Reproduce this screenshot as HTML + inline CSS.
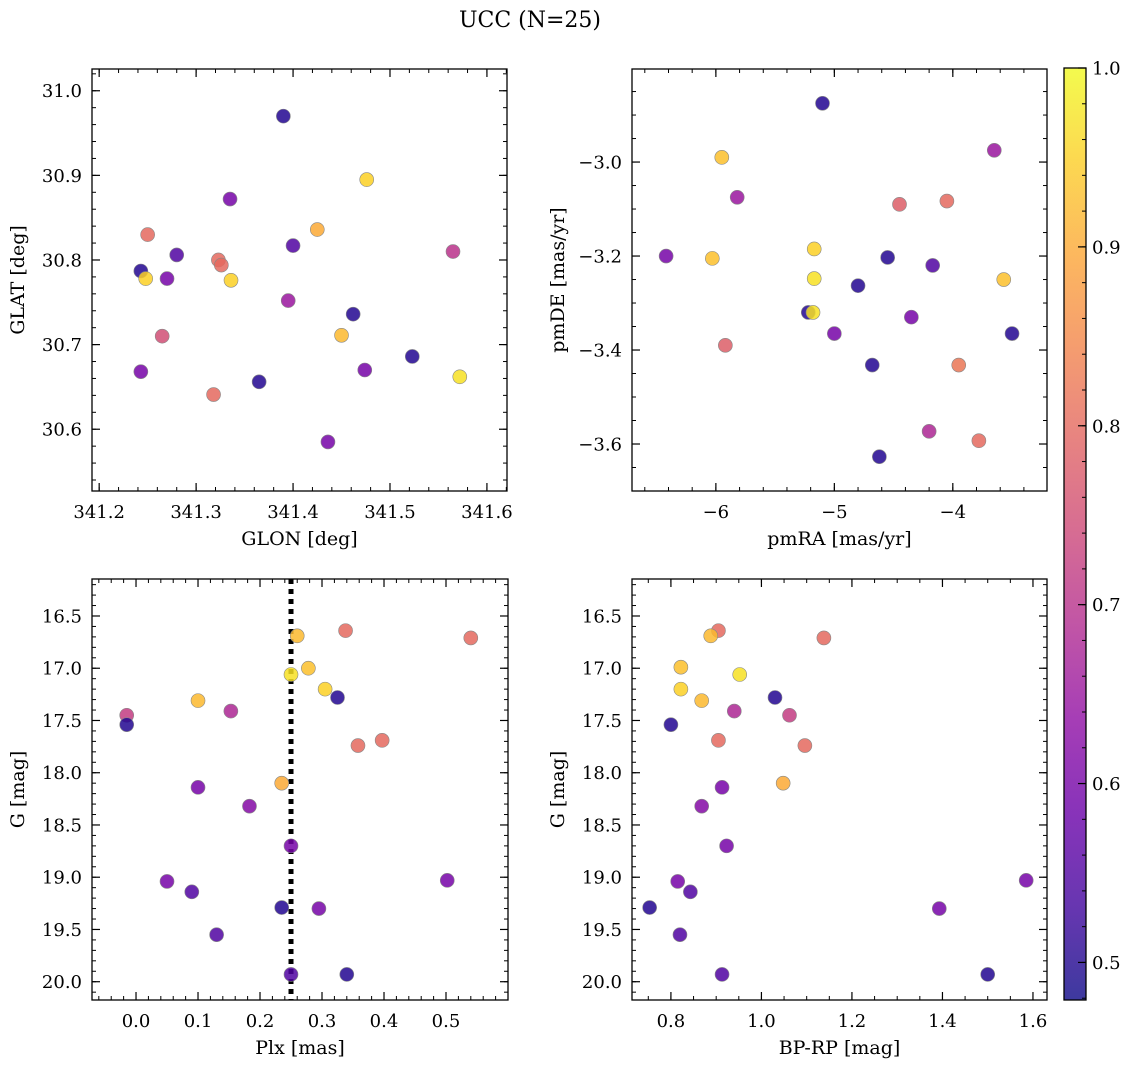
<!DOCTYPE html>
<html><head><meta charset="utf-8"><style>
html,body{margin:0;padding:0;background:#fff;}
svg text{font-family:"DejaVu Serif","Liberation Serif",serif;fill:#000;}
</style></head><body>
<svg id="fig" width="1136" height="1068" viewBox="0 0 1136 1068" xmlns="http://www.w3.org/2000/svg">
<rect width="1136" height="1068" fill="#fff"/>
<text x="530" y="27" font-size="22" text-anchor="middle">UCC (N=25)</text>
</svg>
<script>
// Panel 1: GLON/GLAT
const glon = [341.39,341.335,341.476,341.425,341.25,341.243,341.248,341.28,341.27,341.323,341.326,341.336,341.40,341.395,341.565,341.265,341.462,341.45,341.243,341.318,341.365,341.474,341.523,341.572,341.436];
const glat = [30.97,30.872,30.895,30.836,30.83,30.787,30.778,30.806,30.778,30.8,30.794,30.776,30.817,30.752,30.81,30.71,30.736,30.711,30.668,30.641,30.656,30.67,30.686,30.662,30.585];
const prob1 = [0.5,0.6,0.95,0.9,0.8,0.5,0.95,0.55,0.6,0.8,0.8,0.95,0.55,0.65,0.7,0.75,0.5,0.92,0.6,0.8,0.5,0.6,0.5,0.97,0.6];
// Panel 2: pmRA/pmDE
const pmra = [-5.1,-3.65,-5.95,-5.82,-4.45,-4.05,-6.42,-6.03,-5.17,-4.55,-4.17,-5.17,-3.57,-4.8,-5.22,-5.18,-4.35,-5.0,-3.5,-5.92,-4.68,-3.95,-4.2,-3.78,-4.62];
const pmde = [-2.875,-2.975,-2.99,-3.075,-3.09,-3.083,-3.2,-3.205,-3.185,-3.203,-3.22,-3.248,-3.25,-3.263,-3.32,-3.32,-3.33,-3.365,-3.365,-3.39,-3.432,-3.432,-3.573,-3.593,-3.627];
const prob2 = [0.5,0.65,0.93,0.65,0.78,0.8,0.6,0.93,0.95,0.5,0.55,0.97,0.93,0.5,0.5,0.97,0.6,0.6,0.5,0.78,0.5,0.82,0.68,0.8,0.5];
// Panels 3/4: Plx, BP-RP, G
const plx = [0.54,0.338,0.26,0.278,0.25,0.305,0.325,0.10,0.153,-0.015,-0.015,0.358,0.397,0.235,0.10,0.183,0.25,0.05,0.502,0.09,0.235,0.295,0.13,0.25,0.34];
const gmag3 = [16.71,16.64,16.69,17.0,17.06,17.2,17.28,17.31,17.41,17.45,17.54,17.74,17.69,18.1,18.14,18.32,18.7,19.04,19.03,19.14,19.29,19.3,19.55,19.93,19.93];
const prob3 = [0.8,0.8,0.92,0.93,0.97,0.95,0.5,0.92,0.68,0.72,0.5,0.8,0.8,0.9,0.6,0.62,0.6,0.6,0.6,0.55,0.5,0.6,0.55,0.55,0.5];
const bprp = [0.905,0.888,1.138,0.822,0.952,0.822,1.03,0.868,0.94,1.062,0.8,0.905,1.096,1.048,0.913,0.868,0.923,0.815,1.585,0.843,0.753,1.393,0.82,0.913,1.5];
const gmag4 = [16.64,16.69,16.71,16.99,17.06,17.2,17.28,17.31,17.41,17.45,17.54,17.69,17.74,18.1,18.14,18.32,18.7,19.04,19.03,19.14,19.29,19.3,19.55,19.93,19.93];
const prob4 = [0.8,0.92,0.8,0.93,0.97,0.95,0.5,0.92,0.68,0.72,0.5,0.8,0.8,0.9,0.6,0.62,0.6,0.6,0.6,0.55,0.5,0.6,0.55,0.55,0.5];
const plxLine = 0.25;
// tick labels
const ticks1x = [341.2,341.3,341.4,341.5,341.6];
const ticks1y = [30.6,30.7,30.8,30.9,31.0];
const ticks2x = [-6,-5,-4];
const ticks2y = [-3.6,-3.4,-3.2,-3.0];
const ticks3x = [0.0,0.1,0.2,0.3,0.4,0.5];
const ticksG = [16.5,17.0,17.5,18.0,18.5,19.0,19.5,20.0];
const ticks4x = [0.8,1.0,1.2,1.4,1.6];
const ticksCb = [0.5,0.6,0.7,0.8,0.9,1.0];
const cbMin = 0.479, cbMax = 1.0;

const NS = "http://www.w3.org/2000/svg";
const svg = document.getElementById('fig');
function el(tag, attrs, parent){const e=document.createElementNS(NS,tag);for(const k in attrs)e.setAttribute(k,attrs[k]);(parent||svg).appendChild(e);return e;}

const plasma=[[13,8,135],[65,4,157],[106,0,168],[143,13,164],[177,42,144],[204,71,120],[225,100,98],[242,132,75],[252,166,54],[252,206,37],[240,249,33]];
function cmap(v){let t=(v-cbMin)/(cbMax-cbMin);t=Math.max(0,Math.min(1,t))*10;const i=Math.min(9,Math.floor(t));const f=t-i;const a=plasma[i],b=plasma[i+1];
 return 'rgb('+a.map((c,j)=>Math.round(c+(b[j]-c)*f)).join(',')+')';}

function fmt(v,d){let s=v.toFixed(d);if(s.startsWith('-'))s='\u2212'+s.slice(1);return s;}

function panel(o){
 const g=el('g',{});
 const sx=v=>o.x0+(v-o.xmin)/(o.xmax-o.xmin)*(o.x1-o.x0);
 const sy=v=>o.y1-(v-o.ymin)/(o.ymax-o.ymin)*(o.y1-o.y0);
 const tg=el('g',{},g);
 const minorX=[],minorY=[];
 const lx=Math.min(o.xmin,o.xmax),hx=Math.max(o.xmin,o.xmax),ly=Math.min(o.ymin,o.ymax),hy=Math.max(o.ymin,o.ymax);
 for(let v=Math.ceil(lx/o.mx)*o.mx;v<=hx;v+=o.mx)minorX.push(v);
 for(let v=Math.ceil(ly/o.my)*o.my;v<=hy;v+=o.my)minorY.push(v);
 minorX.forEach(v=>{const x=sx(v);el('line',{x1:x,x2:x,y1:o.y1,y2:o.y1-4,stroke:'#000','stroke-width':1},tg);el('line',{x1:x,x2:x,y1:o.y0,y2:o.y0+4,stroke:'#000','stroke-width':1},tg);});
 minorY.forEach(v=>{const y=sy(v);el('line',{x1:o.x0,x2:o.x0+4,y1:y,y2:y,stroke:'#000','stroke-width':1},tg);el('line',{x1:o.x1,x2:o.x1-4,y1:y,y2:y,stroke:'#000','stroke-width':1},tg);});
 o.tx.forEach(v=>{const x=sx(v);el('line',{x1:x,x2:x,y1:o.y1,y2:o.y1-8,stroke:'#000','stroke-width':1.2},tg);el('line',{x1:x,x2:x,y1:o.y0,y2:o.y0+8,stroke:'#000','stroke-width':1.2},tg);
  const t=el('text',{x:x,y:o.y1+27,'font-size':18,'text-anchor':'middle'},g);t.textContent=fmt(v,o.dx);
  
  });
 o.ty.forEach(v=>{const y=sy(v);el('line',{x1:o.x0,x2:o.x0+8,y1:y,y2:y,stroke:'#000','stroke-width':1.2},tg);el('line',{x1:o.x1,x2:o.x1-8,y1:y,y2:y,stroke:'#000','stroke-width':1.2},tg);
  const t=el('text',{x:o.x0-10,y:y+6.5,'font-size':18,'text-anchor':'end'},g);t.textContent=fmt(v,o.dy);
  
  });
 if(o.vline!==undefined){const x=sx(o.vline);const l=el('line',{x1:x,x2:x,y1:o.y0,y2:o.y1,stroke:'#000','stroke-width':5,'stroke-dasharray':'5,5'},g);
  
  }
 o.xs.forEach((xv,i)=>{const c=el('circle',{cx:sx(xv),cy:sy(o.ys[i]),r:7,fill:cmap(o.c[i]),'fill-opacity':0.85,stroke:'#888','stroke-width':0.6},g);
  
  });
 el('rect',{x:o.x0,y:o.y0,width:o.x1-o.x0,height:o.y1-o.y0,fill:'none',stroke:'#000','stroke-width':1.3},g);
 const xl=el('text',{x:(o.x0+o.x1)/2,y:o.y1+54,'font-size':19,'text-anchor':'middle'},g);xl.textContent=o.xlab;
 
 
 const yx=o.x0-68,yc=(o.y0+o.y1)/2;
 const yl=el('text',{x:yx,y:yc,'font-size':19,'text-anchor':'middle',transform:'rotate(-90 '+yx+' '+yc+')'},g);yl.textContent=o.ylab;
 
 
}
panel({name:'glon-glat-panel',x0:92,x1:507,y0:69,y1:491,xmin:341.1926,xmax:341.6207,ymin:30.527,ymax:31.0257,mx:0.02,my:0.02,tx:ticks1x,ty:ticks1y,dx:1,dy:1,xs:glon,ys:glat,c:prob1,xlab:'GLON [deg]',ylab:'GLAT [deg]'});
panel({name:'pm-panel',x0:632,x1:1047,y0:69,y1:491,xmin:-6.708,xmax:-3.205,ymin:-3.70,ymax:-2.802,mx:0.2,my:0.05,tx:ticks2x,ty:ticks2y,dx:0,dy:1,xs:pmra,ys:pmde,c:prob2,xlab:'pmRA [mas/yr]',ylab:'pmDE [mas/yr]'});
panel({name:'plx-g-panel',x0:92,x1:508,y0:579,y1:1000,xmin:-0.071,xmax:0.6,ymin:20.175,ymax:16.146,mx:0.02,my:0.1,tx:ticks3x,ty:ticksG,dx:1,dy:1,xs:plx,ys:gmag3,c:prob3,xlab:'Plx [mas]',ylab:'G [mag]',vline:plxLine});
panel({name:'cmd-panel',x0:632,x1:1047,y0:579,y1:1000,xmin:0.714,xmax:1.631,ymin:20.175,ymax:16.146,mx:0.05,my:0.1,tx:ticks4x,ty:ticksG,dx:1,dy:1,xs:bprp,ys:gmag4,c:prob4,xlab:'BP-RP [mag]',ylab:'G [mag]'});

// colorbar
const cb=el('g',{});
const defs=el('defs',{},cb);
const grad=el('linearGradient',{id:'pg',x1:0,y1:1,x2:0,y2:0},defs);
for(let i=0;i<=20;i++){const v=cbMin+(cbMax-cbMin)*i/20;el('stop',{offset:(i/20),'stop-color':cmap(v),'stop-opacity':0.8},grad);}
const cx0=1064,cx1=1086,cy0=68,cy1=1000;
const cys=v=>cy1-(v-cbMin)/(cbMax-cbMin)*(cy1-cy0);
el('rect',{x:cx0,y:cy0,width:cx1-cx0,height:cy1-cy0,fill:'url(#pg)'},cb);
for(let v=0.48;v<=1.0001;v+=0.02){const y=cys(v);el('line',{x1:cx1,x2:cx1-4,y1:y,y2:y,stroke:'#000','stroke-width':1},cb);}
ticksCb.forEach(v=>{const y=cys(v);el('line',{x1:cx1,x2:cx1-8,y1:y,y2:y,stroke:'#000','stroke-width':1.2},cb);
 const t=el('text',{x:cx1+6,y:y+6.5,'font-size':18},cb);t.textContent=v.toFixed(1);
 
 });
el('rect',{x:cx0,y:cy0,width:cx1-cx0,height:cy1-cy0,fill:'none',stroke:'#000','stroke-width':1.3},cb);
</script>
</body></html>
